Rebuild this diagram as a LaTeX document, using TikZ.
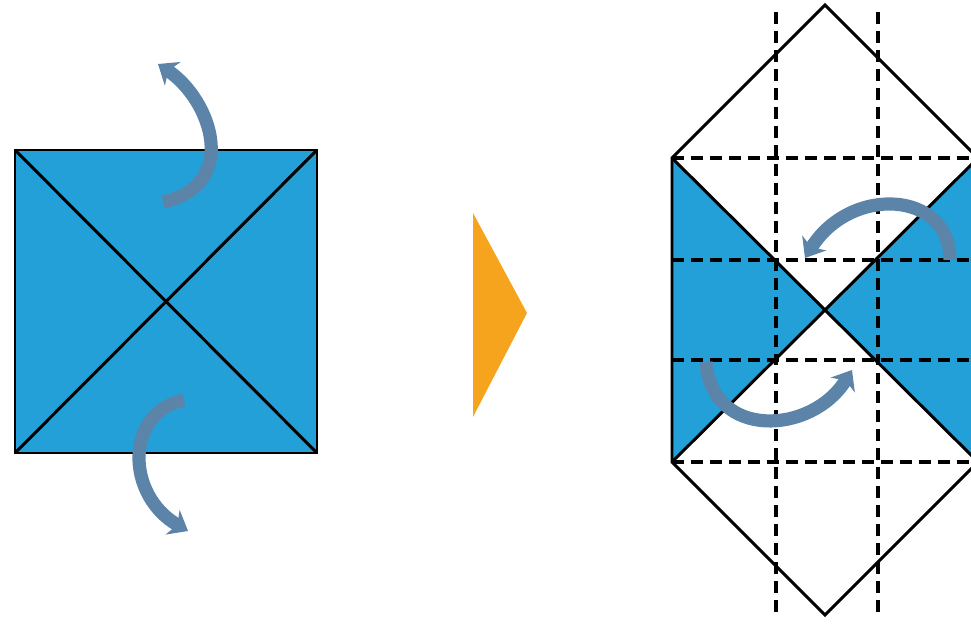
\documentclass[tikz,border=0pt]{standalone}
\usetikzlibrary{arrows.meta}
\definecolor{fold}{HTML}{24A0D9}
\definecolor{turn}{HTML}{5B84A8}
\definecolor{amber}{HTML}{F6A31D}

\begin{document}
\begin{tikzpicture}[
  x=0.02cm, y=-0.02cm,
  edge/.style={draw=black, line width=1.7pt, line join=miter},
  crease/.style={draw=black, line width=1.8pt, dash pattern=on 6.8pt off 4pt},
  twist/.style={draw=turn, line width=7.5pt, -{Stealth[length=10pt, width=16pt, inset=3pt]}}
]
\useasboundingbox (0,0) rectangle (971,624);
\clip (0,0) rectangle (971,624);

\coordinate (sqnw) at (15,150);
\coordinate (sqne) at (317,150);
\coordinate (sqse) at (317,453);
\coordinate (sqsw) at (15,453);
\draw[edge, fill=fold] (sqnw) rectangle (sqse);
\draw[edge] (sqnw) -- (sqse);
\draw[edge] (sqsw) -- (sqne);

\coordinate (uptail) at (163,202);
\coordinate (uphead) at (158,64);
\coordinate (dntail) at (184,400);
\coordinate (dnhead) at (188,531);
\draw[twist] (uptail) .. controls (240,185) and (212,100) .. (uphead);
\draw[twist] (dntail) .. controls (125,412) and (125,495) .. (dnhead);

\coordinate (pa) at (473,213);
\coordinate (pb) at (527,313);
\coordinate (pc) at (473,417);
\fill[amber] (pa) -- (pb) -- (pc) -- cycle;

\coordinate (top) at (825,5);
\coordinate (nw) at (672,158);
\coordinate (ne) at (978,158);
\coordinate (se) at (978,462);
\coordinate (bot) at (825,615);
\coordinate (sw) at (672,462);
\coordinate (mid) at (825,310);
\fill[fold] (nw) -- (sw) -- (mid) -- cycle;
\fill[fold] (ne) -- (se) -- (mid) -- cycle;
\draw[edge] (nw) -- (top) -- (ne) -- (se) -- (bot) -- (sw) -- cycle;
\draw[edge] (nw) -- (se);
\draw[edge] (sw) -- (ne);

\foreach \cx in {776,878}
  \draw[crease] (\cx,12) -- (\cx,613);
\foreach \cy in {158,260,360,462}
  \draw[crease] (672,\cy) -- (978,\cy);

\coordinate (rttail) at (950,260);
\coordinate (rthead) at (805,258);
\coordinate (rbtail) at (706,362);
\coordinate (rbhead) at (852,370);
\draw[twist] (rttail) .. controls (950,190) and (850,185) .. (rthead);
\draw[twist] (rbtail) .. controls (712,440) and (812,435) .. (rbhead);
\end{tikzpicture}
\end{document}
